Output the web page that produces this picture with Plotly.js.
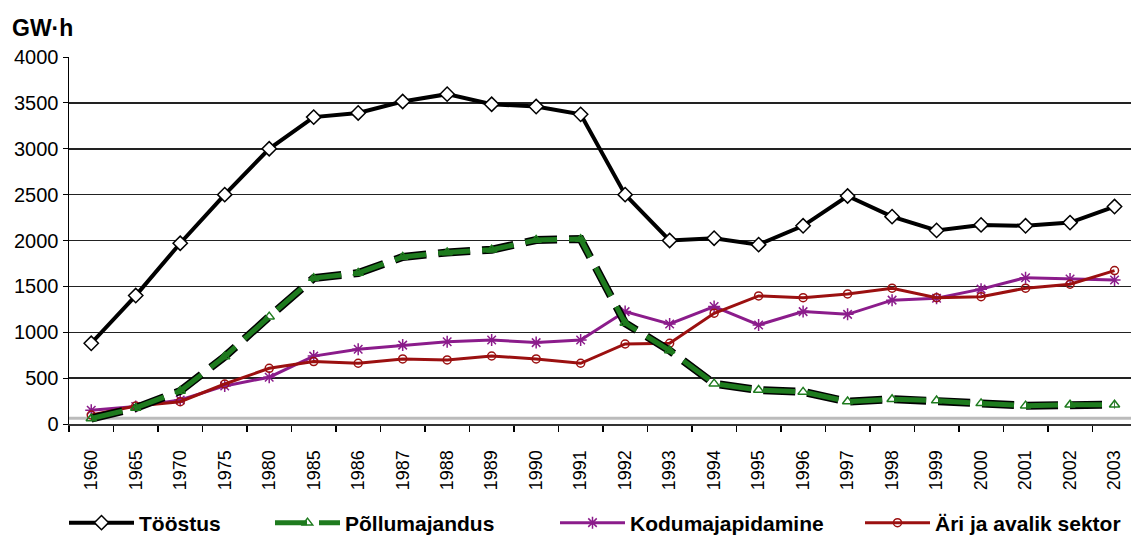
<!DOCTYPE html>
<html>
<head>
<meta charset="utf-8">
<script src="https://cdn.plot.ly/plotly-3.0.1.min.js"></script>
<style>html,body{margin:0;padding:0;background:#fff;}#chart{width:1131px;height:538px;}</style>
</head>
<body>
<div id="chart"></div>
<script>
const years = ['1960','1965','1970','1975','1980','1985','1986','1987','1988','1989','1990','1991','1992','1993','1994','1995','1996','1997','1998','1999','2000','2001','2002','2003'];
const toostus = [880,1400,1970,2500,3000,3345,3390,3515,3595,3485,3460,3375,2500,2000,2025,1955,2160,2485,2260,2110,2170,2160,2195,2370];
const pollumajandus = [60,175,360,735,1170,1590,1645,1820,1870,1900,2005,2015,1100,800,440,370,350,245,270,255,225,200,210,210];
const kodumajapidamine = [150,190,262,415,510,740,815,860,897,915,887,915,1225,1090,1280,1080,1225,1195,1350,1370,1470,1595,1580,1570];
const ari = [98,196,243,436,607,680,662,709,698,741,709,662,872,880,1207,1396,1377,1418,1480,1377,1388,1480,1523,1672];
const unitLabel = 'GW·h';

const GREEN = '#1E7B1E', PURPLE = '#8B1C8B', RED = '#9B1010';
const FONT = 'Liberation Sans, Arial, sans-serif';

const traces = [
  {x: years, y: toostus, type: 'scatter', mode: 'lines+markers', name: 'Tööstus', legend: 'legend',
   line: {color: '#000', width: 4},
   marker: {symbol: 'diamond', size: 11, color: '#fff', line: {color: '#000', width: 1.5}}},
  {x: years, y: kodumajapidamine, type: 'scatter', mode: 'lines+markers', name: 'Kodumajapidamine', legend: 'legend3',
   line: {color: PURPLE, width: 3},
   marker: {symbol: 'asterisk-open', size: 10, color: PURPLE, line: {color: PURPLE, width: 1.5}}},
  {x: years, y: ari, type: 'scatter', mode: 'lines+markers', name: 'Äri ja avalik sektor', legend: 'legend4',
   line: {color: RED, width: 3},
   marker: {symbol: 'circle-open', size: 8, color: RED, line: {color: RED, width: 1.5}}},
  {x: years, y: pollumajandus, type: 'scatter', mode: 'lines', name: 'outline', showlegend: false, hoverinfo: 'skip',
   line: {color: '#000', width: 8, dash: '32px,12px'}},
  {x: years, y: pollumajandus, type: 'scatter', mode: 'lines+markers', name: 'Põllumajandus', legend: 'legend2',
   line: {color: GREEN, width: 5, dash: '32px,12px'},
   marker: {symbol: 'triangle-up-open', size: 9, color: GREEN, line: {color: GREEN, width: 1.5}}}
];

function leg(x) {
  return {orientation: 'h', xref: 'container', yref: 'container', x: x, y: 1 - 523/538,
          xanchor: 'left', yanchor: 'middle', bgcolor: 'rgba(0,0,0,0)', borderwidth: 0,
          itemwidth: 65, font: {family: FONT, size: 21, color: '#000', weight: 'bold'}};
}

const layout = {
  width: 1131, height: 538,
  margin: {l: 69, r: 0, t: 57, b: 114},
  paper_bgcolor: '#fff', plot_bgcolor: '#fff',
  font: {family: FONT, color: '#000'},
  showlegend: true,
  legend: leg(64/1131),
  legend2: leg(270/1131),
  legend3: leg(555/1131),
  legend4: leg(860/1131),
  xaxis: {type: 'category', range: [-0.5, 23.37], showgrid: false, zeroline: false,
          showline: true, linecolor: '#333', linewidth: 2,
          ticks: 'outside', ticklen: 6, tickwidth: 1.5, tickcolor: '#000', tickson: 'boundaries',
          tickangle: -90, ticklabelstandoff: 17,
          tickfont: {family: FONT, size: 18, color: '#000'}},
  yaxis: {range: [0, 4000], dtick: 500, showgrid: true, gridcolor: '#222', gridwidth: 1.5,
          zeroline: false, showline: true, linecolor: '#000', linewidth: 1.5,
          ticks: 'outside', ticklen: 5, tickcolor: '#000',
          tickfont: {family: FONT, size: 20, color: '#000'}},
  shapes: [
    {type: 'line', xref: 'paper', yref: 'paper', x0: 0, x1: 1, y0: 0.016, y1: 0.016,
     line: {color: '#bbb', width: 3}, layer: 'below'}
  ],
  annotations: [
    {text: '<b>' + unitLabel + '</b>', xref: 'paper', yref: 'paper',
     x: (10 - 69) / 1062, y: (424 - 28) / 367, xanchor: 'left', yanchor: 'middle',
     showarrow: false, font: {family: FONT, size: 23, color: '#000'}}
  ]
};

Plotly.newPlot('chart', traces, layout, {displayModeBar: false, staticPlot: true});
</script>
</body>
</html>
